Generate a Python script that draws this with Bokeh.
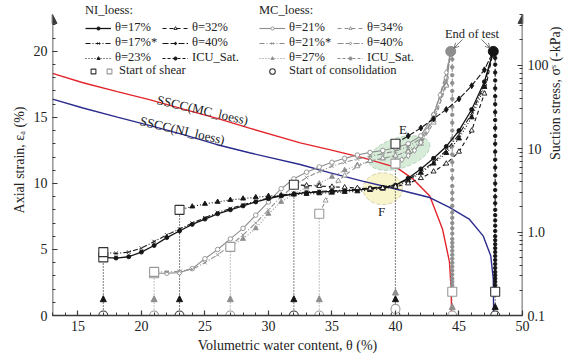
import math
from bokeh.plotting import figure
from bokeh.models import (Range1d, LogScale, LogAxis, FixedTicker, Legend, LegendItem,
                          Arrow, NormalHead, OpenHead, CustomJSTickFormatter, ColumnDataSource)
from bokeh.core.properties import value
from bokeh.embed import file_html
from bokeh.resources import INLINE

FONT = "Liberation Serif"
NI_C = "#151515"
MC_C = "#8e8e8e"
RED = "#e3242b"
BLUE = "#2b2b8e"
AX_C = "#3a3a3a"

# ---------------- data ----------------
x_ticks = [15, 20, 25, 30, 35, 40, 45, 50]
y_ticks = [0, 5, 10, 15, 20]
s_ticks = [0.1, 1, 10, 100]
y_axis_top = 22.8   # strain at the tip of the axis arrows

# SSCC curves (suction stress, kPa, right log axis)
sscc_mc_theta = [13.0, 15.4, 18.1, 20.7, 23.3, 25.9, 28.5, 32.5, 34.8, 37.4, 40.1, 41.4, 42.7, 43.7, 44.25, 44.38, 44.42]
sscc_mc_suction = [79.7, 61.5, 48.1, 38.3, 29.7, 23.2, 17.6, 11.7, 9.7, 7.8, 5.9, 4.3, 2.7, 1.09, 0.44, 0.21, 0.1]
sscc_ni_theta = [13.0, 15.4, 18.1, 20.7, 23.3, 25.9, 28.5, 32.5, 34.8, 37.4, 40.1, 42.7, 44.25, 45.8, 46.9, 47.5, 47.7, 47.73]
sscc_ni_suction = [39.1, 30.6, 23.8, 18.8, 14.7, 11.2, 8.9, 6.45, 5.14, 4.08, 3.25, 2.59, 1.97, 1.43, 0.90, 0.52, 0.275, 0.1]

# NI_loess tests (axial strain, %)
ni17_theta = [17, 18, 19, 20, 21, 22, 23, 24, 25, 26, 27, 28, 29, 30, 31, 32, 33, 34, 35, 36, 37, 38, 39, 40, 41, 42, 43, 44, 45, 46, 47, 47.7]
ni17_strain = [4.4, 4.35, 4.45, 4.8, 5.3, 5.9, 6.4, 6.9, 7.3, 7.7, 8.0, 8.3, 8.6, 8.85, 9.05, 9.2, 9.3, 9.35, 9.4, 9.45, 9.5, 9.6, 9.7, 9.85, 10.4, 11.1, 11.9, 12.8, 14.0, 15.6, 17.7, 20.0]
ni17s_theta = [17, 18, 19, 20, 21, 22, 23, 24, 25, 26, 27, 28, 29, 30, 31, 32, 33, 34, 35, 36, 37, 38, 39, 40, 41, 42, 43, 44, 45, 46, 47, 47.7]
ni17s_strain = [4.8, 4.7, 4.8, 5.1, 5.6, 6.1, 6.55, 7.0, 7.4, 7.8, 8.1, 8.4, 8.65, 8.9, 9.1, 9.25, 9.35, 9.4, 9.45, 9.5, 9.55, 9.65, 9.75, 9.9, 10.3, 10.9, 11.6, 12.5, 13.7, 15.3, 17.5, 20.0]
ni23_theta = [23, 24, 25, 26, 27, 28, 29, 30, 31, 32, 33, 34, 35, 36, 37, 38, 39, 40, 41, 42, 43, 44, 45, 46, 47, 47.7]
ni23_strain = [8.0, 8.25, 8.45, 8.6, 8.75, 8.85, 8.95, 9.05, 9.1, 9.15, 9.2, 9.25, 9.3, 9.35, 9.4, 9.5, 9.6, 9.75, 10.2, 10.8, 11.5, 12.3, 13.4, 15.0, 17.3, 20.0]
ni32_theta = [32, 33, 34, 35, 36, 37, 38, 39, 40, 41, 42, 43, 44, 45, 46, 47, 47.7]
ni32_strain = [9.9, 9.85, 9.8, 9.75, 9.7, 9.65, 9.6, 9.65, 9.75, 10.0, 10.4, 10.9, 11.5, 12.4, 14.0, 16.8, 20.0]
ni40_theta = [40, 41, 42, 43, 44, 45, 46, 47, 47.7]
ni40_strain = [13.0, 13.6, 14.2, 14.9, 15.6, 16.4, 17.4, 18.6, 20.0]
ni_icu_theta = 47.85
ni_icu_strain = [1.8, 2.05, 2.3, 2.55, 2.8, 3.05, 3.3, 3.6, 3.9, 4.2, 4.5, 4.8, 5.1, 5.4, 5.7, 6.0, 6.4, 6.8,
                 7.2, 7.6, 8.0, 8.5, 9.0, 9.5, 10.0, 10.6, 11.2, 11.8, 12.4, 13.0, 13.6, 14.2, 14.8, 15.4,
                 16.0, 16.6, 17.2, 17.8, 18.4, 19.0, 19.5, 20.0]

# MC_loess tests (axial strain, %)
mc21_theta = [21, 22, 23, 24, 25, 26, 27, 28, 29, 30, 31, 32, 33, 34, 35, 36, 37, 38, 39, 40, 41, 42, 43, 44, 44.35]
mc21_strain = [3.2, 3.2, 3.25, 3.55, 4.3, 5.0, 5.8, 6.6, 7.6, 8.6, 9.6, 10.35, 10.85, 11.25, 11.6, 11.9, 12.15, 12.35, 12.5, 12.7, 13.0, 13.6, 15.2, 18.0, 20.0]
mc21s_theta = [21, 22, 23, 24, 25, 26, 27, 28, 29, 30, 31, 32, 33, 34, 35, 36, 37, 38, 39, 40, 41, 42, 43, 44, 44.35]
mc21s_strain = [3.3, 3.3, 3.35, 3.5, 4.0, 4.6, 5.3, 6.1, 7.0, 8.0, 9.0, 9.8, 10.45, 10.9, 11.3, 11.6, 11.85, 12.05, 12.25, 12.45, 12.8, 13.4, 14.9, 17.6, 20.0]
mc27_theta = [27, 28, 29, 30, 31, 32, 33, 34, 35, 36, 37, 38, 39, 40, 41, 42, 43, 44, 44.35]
mc27_strain = [5.2, 5.8, 6.6, 7.7, 8.6, 9.2, 9.7, 10.0, 10.5, 11.0, 11.4, 11.7, 11.9, 12.1, 12.5, 13.2, 14.8, 17.5, 20.0]
mc34_theta = [34, 34.5, 35, 35.5, 36, 37, 38, 39, 40, 41, 42, 43, 44, 44.35]
mc34_strain = [7.7, 8.7, 9.5, 10.2, 10.6, 11.3, 11.7, 11.9, 12.1, 12.4, 13.0, 14.6, 17.4, 20.0]
mc40_theta = [40, 40.5, 41, 41.5, 42, 42.5, 43, 43.5, 44, 44.35]
mc40_strain = [11.5, 11.8, 12.1, 12.5, 13.1, 14.0, 15.2, 16.7, 18.4, 20.0]
mc_icu_theta = 44.47
mc_icu_strain = [1.8, 2.05, 2.3, 2.55, 2.8, 3.1, 3.4, 3.7, 4.0, 4.3, 4.6, 4.9, 5.2, 5.5, 5.8, 6.2, 6.6, 7.0,
                 7.4, 7.8, 8.3, 8.8, 9.3, 9.8, 10.4, 11.0, 11.6, 12.2, 12.8, 13.4, 14.0, 14.6, 15.2, 15.8,
                 16.4, 17.0, 17.6, 18.2, 18.8, 19.4, 20.0]

# start of consolidation (circles) and end of test
soc_ni_theta = [17, 23, 32, 40, 47.85]
soc_ni_strain = [0, 0, 0, 0, 0]
soc_mc_theta = [21, 27, 34, 40, 44.47]
soc_mc_strain = [0, 0, 0, 0.5, 0]
end_theta = [44.35, 47.7]
end_strain = [20.0, 20.0]

# highlighted regions
region_label = ["E", "F"]
region_theta = [40.3, 39.0]
region_strain = [12.3, 9.6]
region_w = [5.0, 3.1]
region_h = [2.3, 2.4]

# ---------------- figure ----------------
p = figure(width=573, height=355, x_range=Range1d(13, 50), y_range=Range1d(0, 23.55),
           output_backend="svg", toolbar_location=None,
           min_border_left=52, min_border_right=48, min_border_top=4, min_border_bottom=38,
           x_axis_label="Volumetric water content, θ (%)", y_axis_label="Axial strain, εₐ (%)")
p.outline_line_color = None
p.grid.visible = False
p.background_fill_color = "white"
p.extra_y_ranges = {"s": Range1d(0.1, 532)}
p.extra_y_scales = {"s": LogScale()}


def style_axis(ax):
    ax.axis_line_width = 1.6
    ax.axis_line_color = AX_C
    ax.major_tick_in = 5
    ax.major_tick_out = 0
    ax.minor_tick_in = 3
    ax.minor_tick_out = 0
    ax.major_tick_line_color = AX_C
    ax.major_tick_line_width = 1.2
    ax.minor_tick_line_color = AX_C
    ax.major_label_text_font = FONT
    ax.major_label_text_font_size = "14px"
    ax.major_label_text_color = "#222222"
    ax.axis_label_text_font = FONT
    ax.axis_label_text_font_size = "14px"
    ax.axis_label_text_font_style = "normal"
    ax.axis_label_text_color = "#222222"
    ax.axis_label_standoff = 4
    ax.major_label_standoff = 5


p.xaxis.ticker = FixedTicker(ticks=x_ticks, minor_ticks=list(range(13, 51)))
p.yaxis.ticker = FixedTicker(ticks=y_ticks, minor_ticks=list(range(0, 23)))
style_axis(p.xaxis[0])
style_axis(p.yaxis[0])
p.yaxis[0].axis_line_color = None

s_minor = [v * m for v in (0.1, 1, 10) for m in range(2, 10)] + [200, 300, 400]
raxis = LogAxis(y_range_name="s", ticker=FixedTicker(ticks=s_ticks, minor_ticks=s_minor),
                axis_label="Suction stress, σˢ (-kPa)",
                formatter=CustomJSTickFormatter(code="return tick < 0.5 ? '0.1' : (tick < 5 ? '1.0' : tick.toFixed(0));"))
style_axis(raxis)
raxis.axis_line_color = None
raxis.axis_label_orientation = math.pi / 2
p.add_layout(raxis, "right")

# vertical axis lines with arrow tips
for xa in (p.x_range.start, p.x_range.end):
    p.add_layout(Arrow(end=NormalHead(size=9, fill_color=AX_C, line_color=AX_C),
                       x_start=xa, y_start=0, x_end=xa, y_end=y_axis_top,
                       line_color=AX_C, line_width=1.6))

# regions E and F
p.ellipse(x=region_theta[:1], y=region_strain[:1], width=region_w[:1], height=region_h[:1], angle=0.3,
          fill_color="#cfe7d1", fill_alpha=0.85, line_color="#a9c9ad", line_dash="4 2", line_width=0.8)
p.ellipse(x=region_theta[1:], y=region_strain[1:], width=region_w[1:], height=region_h[1:], angle=0.0,
          fill_color="#f7f3c6", fill_alpha=0.9, line_color="#cdc79a", line_dash="4 2", line_width=0.8)

# SSCC curves
p.line(sscc_mc_theta, sscc_mc_suction, y_range_name="s", line_color=RED, line_width=1.4)
p.line(sscc_ni_theta, sscc_ni_suction, y_range_name="s", line_color=BLUE, line_width=1.4)
p.text(x=[21.25], y=[16.35], text=["SSCC(MC_loess)"], angle=-13, angle_units="deg",
       text_font=value(FONT), text_font_size="13px", text_color="#222222",
       text_baseline="alphabetic", text_align="left")
p.text(x=[19.9], y=[14.75], text=["SSCC(NI_loess)"], angle=-13, angle_units="deg",
       text_font=value(FONT), text_font_size="13px", text_color="#222222",
       text_baseline="alphabetic", text_align="left")

# consolidation paths (dotted verticals from circle to start-of-shear square)
ni_sq_theta = [ni17_theta[0], ni17s_theta[0], ni23_theta[0], ni32_theta[0], ni40_theta[0], ni_icu_theta]
ni_sq_strain = [ni17_strain[0], ni17s_strain[0], ni23_strain[0], ni32_strain[0], ni40_strain[0], ni_icu_strain[0]]
mc_sq_theta = [mc21_theta[0], mc21s_theta[0], mc27_theta[0], mc34_theta[0], mc40_theta[0], mc_icu_theta]
mc_sq_strain = [mc21_strain[0], mc21s_strain[0], mc27_strain[0], mc34_strain[0], mc40_strain[0], mc_icu_strain[0]]


def top_for(theta_list, strain_list, t):
    return max(s for th, s in zip(theta_list, strain_list) if abs(th - t) < 0.01)


for thetas, bases, sqt, sqs, col in ((soc_ni_theta, soc_ni_strain, ni_sq_theta, ni_sq_strain, NI_C),
                                     (soc_mc_theta, soc_mc_strain, mc_sq_theta, mc_sq_strain, MC_C)):
    tops = [top_for(sqt, sqs, t) for t in thetas]
    p.segment(x0=thetas, y0=bases, x1=thetas, y1=tops, line_color=col, line_dash="1 2", line_width=1.1)
    heads = [b + min(1.5, 0.5 * (tp - b)) for b, tp in zip(bases, tops)]
    src = ColumnDataSource(dict(x0=thetas, y0=bases, x1=thetas, y1=heads))
    p.add_layout(Arrow(source=src, x_start="x0", y_start="y0", x_end="x1", y_end="y1",
                       line_alpha=0, end=NormalHead(size=6, fill_color=col, line_color=col)))


def series(theta, strain, color, dash, marker, msize, fill, lw=1.1):
    ln = p.line(theta, strain, line_color=color, line_dash=dash, line_width=lw)
    sc = p.scatter(theta[1:-1], strain[1:-1], marker=marker, size=msize, line_color=color,
                   fill_color=fill, line_width=0.9)
    return [ln, sc]


# MC (grey) first, NI (black) on top
r_mc21 = series(mc21_theta, mc21_strain, MC_C, "solid", "circle", 4.5, "white")
r_mc21s = series(mc21s_theta, mc21s_strain, MC_C, "5 2 1 2", "x", 5, MC_C)
r_mc27 = series(mc27_theta, mc27_strain, MC_C, "1 2", "triangle", 5, MC_C)
r_mc34 = series(mc34_theta, mc34_strain, MC_C, "4 3", "triangle", 5, "white")
r_mc40 = series(mc40_theta, mc40_strain, MC_C, "6 2", "diamond", 6, "white")
mc_icu_x = [mc_icu_theta] * len(mc_icu_strain)
r_mcicu = series(mc_icu_x, mc_icu_strain, MC_C, "3 2", "circle", 3.5, MC_C)

r_ni17 = series(ni17_theta, ni17_strain, NI_C, "solid", "circle", 4, NI_C, 1.3)
r_ni17s = series(ni17s_theta, ni17s_strain, NI_C, "5 2 1 2", "x", 5, NI_C)
r_ni23 = series(ni23_theta, ni23_strain, NI_C, "1 2", "triangle", 5, NI_C)
r_ni32 = series(ni32_theta, ni32_strain, NI_C, "4 3", "triangle", 5, "white")
r_ni40 = series(ni40_theta, ni40_strain, NI_C, "6 2", "diamond", 6, NI_C)
ni_icu_x = [ni_icu_theta] * len(ni_icu_strain)
r_niicu = series(ni_icu_x, ni_icu_strain, NI_C, "3 2", "circle", 3.5, NI_C)

# start of shear squares
r_sq_ni = p.scatter(ni_sq_theta, ni_sq_strain, marker="square", size=9, fill_color="white",
                    line_color="#333333", line_width=1.1)
r_sq_mc = p.scatter(mc_sq_theta, mc_sq_strain, marker="square", size=9, fill_color="white",
                    line_color="#9a9a9a", line_width=1.1)

# start of consolidation circles
r_c_ni = p.scatter(soc_ni_theta, soc_ni_strain, marker="circle", size=9, fill_color="white",
                   line_color="#333333", line_width=1.1)
r_c_mc = p.scatter(soc_mc_theta, soc_mc_strain, marker="circle", size=9, fill_color="white",
                   line_color="#9a9a9a", line_width=1.1)

# end of test
p.scatter(end_theta[:1], end_strain[:1], marker="circle", size=10, fill_color=MC_C, line_color=MC_C)
p.scatter(end_theta[1:], end_strain[1:], marker="circle", size=10, fill_color=NI_C, line_color=NI_C)
mid = 0.5 * (end_theta[0] + end_theta[1])
p.text(x=[mid], y=[end_strain[0] + 1.35], text=["End of test"], text_font=value(FONT),
       text_font_size="12.5px", text_color="#222222", text_align="center", text_baseline="middle")
for et, sgn in zip(end_theta, (-1, 1)):
    p.add_layout(Arrow(end=OpenHead(size=5, line_color="#555555", line_width=0.8),
                       x_start=mid + sgn * 0.75, y_start=end_strain[0] + 0.9,
                       x_end=et - sgn * 0.25, y_end=end_strain[0] + 0.25,
                       line_color="#555555", line_width=0.8))

# region labels
p.text(x=[region_theta[0] + 0.3], y=[region_strain[0] + 1.8], text=[region_label[0]],
       text_font=value(FONT), text_font_size="13px", text_color="#222222",
       text_align="center", text_baseline="middle")
p.text(x=[region_theta[1] - 0.1], y=[region_strain[1] - 1.75], text=[region_label[1]],
       text_font=value(FONT), text_font_size="13px", text_color="#222222",
       text_align="center", text_baseline="middle")


# ---------------- legends ----------------
def mk_legend(items, loc, title=None, ncols=None, orientation="vertical", glyph_width=26, glyph_height=8,
              label_width=20):
    lg = Legend(items=items, location=loc, orientation=orientation)
    if ncols:
        lg.ncols = ncols
    if title:
        lg.title = title
        lg.title_text_font = FONT
        lg.title_text_font_size = "12.5px"
        lg.title_text_font_style = "normal"
        lg.title_text_color = "#222222"
        lg.title_standoff = 2
    lg.label_text_font = FONT
    lg.label_text_font_size = "12.5px"
    lg.label_text_color = "#222222"
    lg.padding = 0
    lg.margin = 0
    lg.spacing = 0
    lg.border_line_color = None
    lg.background_fill_alpha = 0
    lg.glyph_width = glyph_width
    lg.glyph_height = glyph_height
    lg.label_height = 14
    lg.label_width = label_width
    lg.label_standoff = 4
    return lg


leg_ni = mk_legend([LegendItem(label="θ=17%", renderers=r_ni17),
                    LegendItem(label="θ=17%*", renderers=r_ni17s),
                    LegendItem(label="θ=23%", renderers=r_ni23),
                    LegendItem(label="θ=32%", renderers=r_ni32),
                    LegendItem(label="θ=40%", renderers=r_ni40),
                    LegendItem(label="ICU_Sat.", renderers=r_niicu)],
                   (33, 250), title="NI_loess:", ncols=2, label_width=47)
leg_mc = mk_legend([LegendItem(label="θ=21%", renderers=r_mc21),
                    LegendItem(label="θ=21%*", renderers=r_mc21s),
                    LegendItem(label="θ=27%", renderers=r_mc27),
                    LegendItem(label="θ=34%", renderers=r_mc34),
                    LegendItem(label="θ=40%", renderers=r_mc40),
                    LegendItem(label="ICU_Sat.", renderers=r_mcicu)],
                   (207, 250), title="MC_loess:", ncols=2, label_width=48)
leg_sos = mk_legend([LegendItem(label=" ", renderers=[r_sq_ni]),
                     LegendItem(label="Start of shear", renderers=[r_sq_mc])],
                    (35, 237), orientation="horizontal", glyph_width=12, glyph_height=14, label_width=0)
leg_soc = mk_legend([LegendItem(label="Start of consolidation", renderers=[r_c_ni])],
                    (207, 237), glyph_width=26, glyph_height=14)
for lg in (leg_ni, leg_mc, leg_sos, leg_soc):
    p.add_layout(lg)

open("out.html", "w").write(file_html(p, INLINE))
